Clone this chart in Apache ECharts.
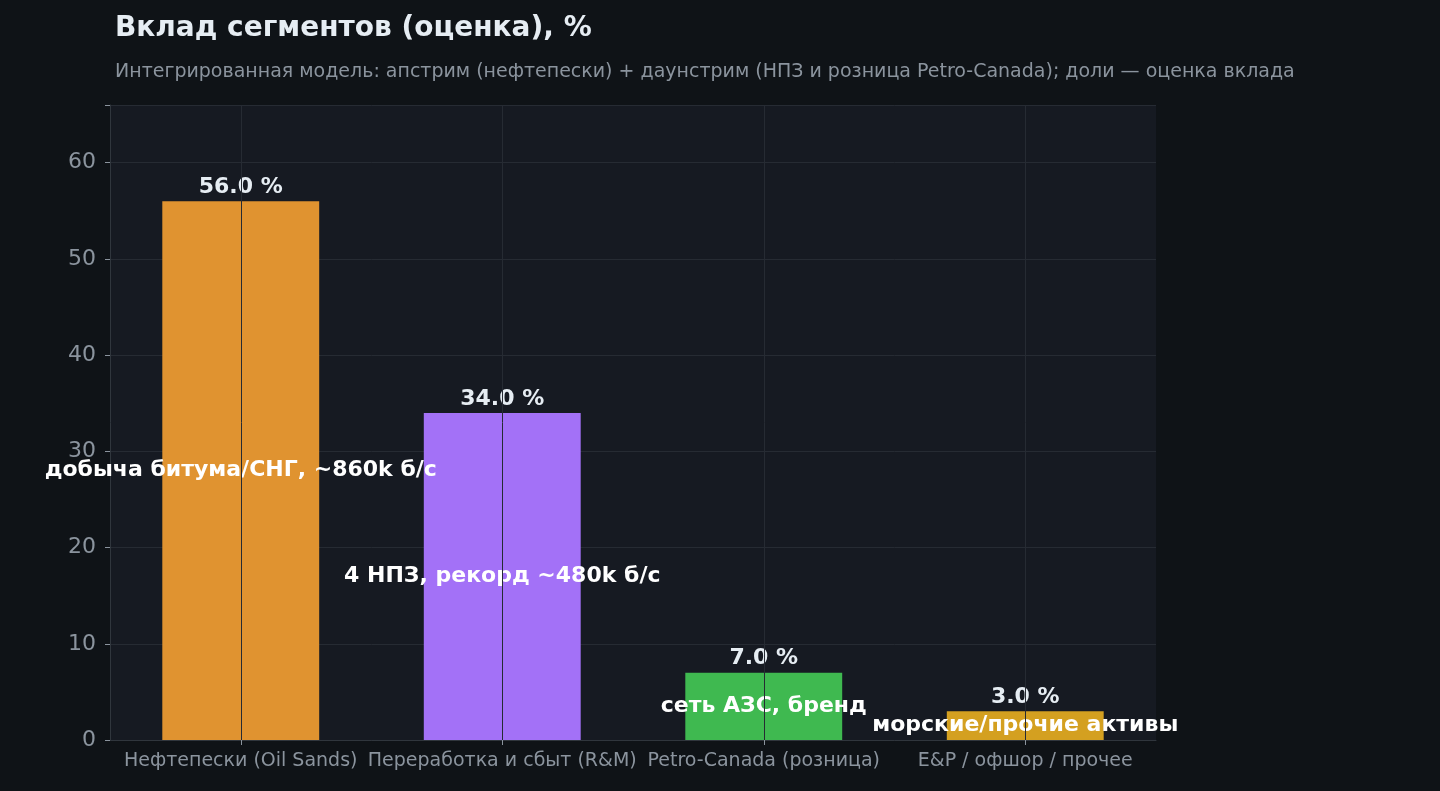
<!DOCTYPE html>
<html><head><meta charset="utf-8">
<script src="https://cdn.jsdelivr.net/npm/echarts@6/dist/echarts.min.js"></script>
<style>html,body{margin:0;padding:0;background:#0f1317;}#c{width:1440px;height:791px;}</style>
</head><body><div id="c"></div>
<script>
const categories = ['Нефтепески (Oil Sands)', 'Переработка и сбыт (R&M)', 'Petro-Canada (розница)', 'E&P / офшор / прочее'];
const values = [56.0, 34.0, 7.0, 3.0];
const notes = ['добыча битума/СНГ, ~860k б/с', '4 НПЗ, рекорд ~480k б/с', 'сеть АЗС, бренд', 'морские/прочие активы'];
const colors = ['#e09330', '#a371f7', '#3fb950', '#d4a020'];
const yTicks = [0, 10, 20, 30, 40, 50, 60];

const chart = echarts.init(document.getElementById('c'));
const font = 'DejaVu Sans';
chart.setOption({
  backgroundColor: '#0f1317',
  textStyle: { fontFamily: font },
  title: {
    text: 'Вклад сегментов (оценка), %',
    subtext: 'Интегрированная модель: апстрим (нефтепески) + даунстрим (НПЗ и розница Petro-Canada); доли — оценка вклада',
    left: 110, top: 10, itemGap: 20,
    textStyle: { color: '#e6edf3', fontSize: 28, fontWeight: 'bold', fontFamily: font },
    subtextStyle: { color: '#8b949e', fontSize: 19, fontFamily: font }
  },
  grid: { left: 110, right: 284, top: 105, bottom: 51, show: true, backgroundColor: '#161a22', borderWidth: 0 },
  xAxis: {
    type: 'category', data: categories,
    axisLine: { lineStyle: { color: '#30363d' } },
    axisTick: { show: true, alignWithLabel: true, lineStyle: { color: '#8b949e' } },
    axisLabel: { color: '#8b949e', fontSize: 19, interval: 0, margin: 12 },
    splitLine: { show: false }
  },
  yAxis: {
    type: 'value', min: 0, max: 66, interval: 10,
    axisLine: { show: true, lineStyle: { color: '#30363d' } },
    axisTick: { show: true, lineStyle: { color: '#8b949e' } },
    axisLabel: { color: '#8b949e', fontSize: 22, margin: 14, formatter: v => yTicks.includes(v) ? v : '' },
    splitLine: { lineStyle: { color: '#262b33' } }
  },
  series: [
    {
      type: 'bar', barWidth: '60%',
      data: values.map((v, i) => ({ value: v, itemStyle: { color: colors[i] } })),
      label: { show: true, position: 'top', distance: 3, formatter: p => p.value.toFixed(1) + ' %', color: '#e6edf3', fontSize: 22, fontWeight: 'bold' },
      markLine: {
        silent: true, symbol: 'none', label: { show: false },
        lineStyle: { color: '#262b33', type: 'solid', width: 1 },
        data: categories.map(c => ({ xAxis: c }))
      },
      z: 2
    },
    {
      type: 'bar', barWidth: '60%', barGap: '-100%',
      data: values,
      itemStyle: { color: 'transparent' },
      label: { show: true, position: 'inside', formatter: p => notes[p.dataIndex], color: '#ffffff', fontSize: 22, fontWeight: 'bold' },
      z: 3
    }
  ]
});
</script></body></html>
